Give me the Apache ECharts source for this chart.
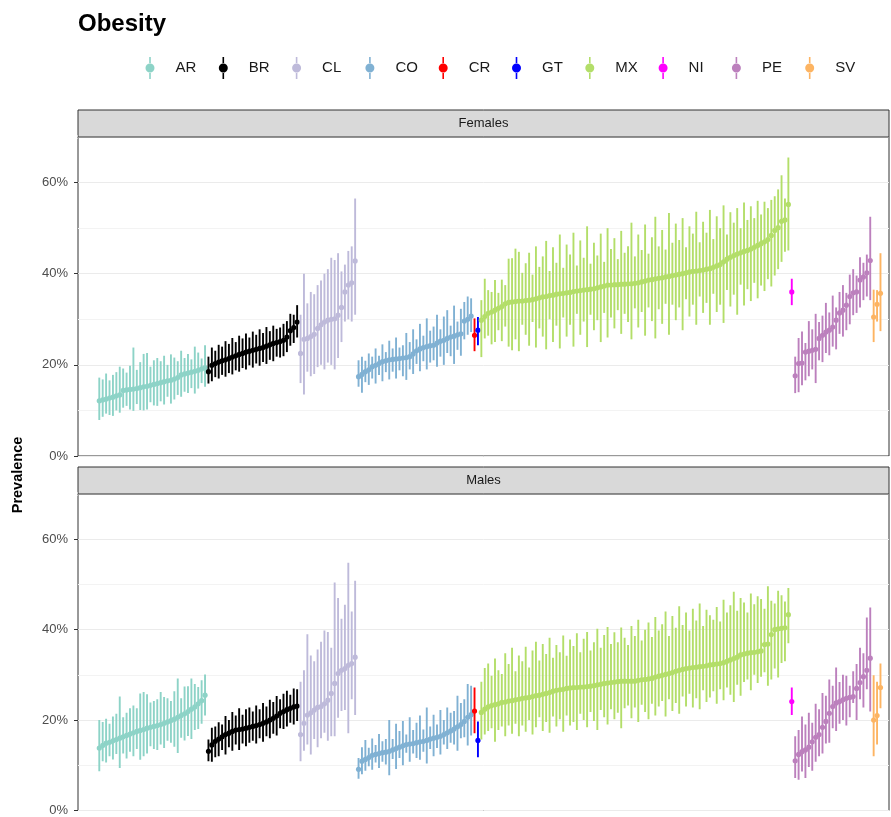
<!DOCTYPE html>
<html><head><meta charset="utf-8">
<script src="https://cdn.jsdelivr.net/npm/echarts@6/dist/echarts.min.js"></script>
<style>html,body{margin:0;padding:0;background:#fff}#chart{width:891px;height:817px}</style>
</head><body><div id="chart"></div>
<script>
// ---- data ----
const chartTitle = 'Obesity';
const countries = ['AR','BR','CL','CO','CR','GT','MX','NI','PE','SV'];
const countryColors = ['#8DD3C7','#000000','#BEBADA','#80B1D3','#FF0000','#0000FF','#B3DE69','#FF00FF','#BC80BD','#FDB462'];
const cityCounts = [32,27,17,34,1,1,91,1,23,3]; // cities per country, in x order
const panels = ['Females','Males'];
const yTicks = [0,20,40,60];

// Females: estimate, lower, upper (%)
const femaleEst = [
  12.1,12.3,12.5,12.7,12.9,13.2,13.4,14.4,14.5,14.6,14.7,14.8,15.0,15.2,15.3,15.5,15.7,15.9,16.1,16.3,16.5,16.6,16.9,17.2,17.8,18.0,18.2,18.4,18.6,18.8,19.1,19.4,
  18.5,19.9,20.3,20.6,20.9,21.1,21.4,21.7,22.0,22.3,22.5,22.8,23.0,23.2,23.4,23.6,23.8,24.1,24.4,24.7,24.9,25.1,25.4,26.1,27.5,28.2,29.4,
  22.5,25.6,25.8,26.2,26.7,28.0,28.8,29.4,29.8,30.0,30.1,30.9,32.6,36.0,37.5,38.0,42.8,
  17.4,17.9,18.5,18.9,19.6,19.9,20.3,20.7,20.9,21.1,21.2,21.3,21.4,21.5,21.6,21.8,22.4,23.1,23.5,23.8,24.0,24.2,24.3,24.8,25.2,25.4,25.8,26.1,26.3,26.6,26.8,29.6,30.0,30.7,
  26.5,
  27.6,
  29.8,30.6,31.3,31.6,32.0,32.4,32.8,33.4,33.7,33.8,
  33.9,34.0,34.0,34.1,34.2,34.3,34.5,34.7,34.9,35.0,
  35.2,35.3,35.5,35.6,35.7,35.8,35.9,36.1,36.2,36.3,
  36.4,36.5,36.6,36.7,36.9,37.1,37.3,37.5,37.5,37.6,
  37.6,37.7,37.7,37.8,37.8,37.9,38.0,38.2,38.4,38.6,
  38.7,38.9,39.0,39.1,39.3,39.4,39.6,39.7,39.9,40.0,
  40.2,40.4,40.5,40.6,40.7,40.8,41.0,41.1,41.4,41.7,
  42.0,42.6,43.2,43.6,44.0,44.3,44.6,44.9,45.1,45.4,
  45.8,46.2,46.6,47.0,47.5,48.4,49.5,50.1,51.5,51.8,
  55.2,
  36.0,
  17.6,20.3,20.4,22.8,23.0,23.2,23.4,25.8,26.5,27.2,27.6,28.3,29.8,31.4,32.0,33.1,35.0,35.8,36.0,38.6,39.3,40.2,42.9,
  30.5,33.3,35.7
];
const femaleLow = [
  7.9,8.6,9.3,9.0,8.8,10.0,9.5,10.6,11.0,10.2,9.9,11.4,10.1,10.0,10.2,11.8,11.1,11.0,12.0,11.3,13.0,11.5,12.4,13.4,13.0,14.1,13.8,14.9,13.7,14.8,16.0,15.2,
  15.9,16.4,17.3,17.0,17.8,17.4,18.2,17.9,18.8,18.5,19.3,19.0,19.9,19.4,20.3,19.8,20.6,20.2,21.1,20.8,21.8,21.6,21.9,22.8,24.2,24.8,26.0,
  16,13.5,18.5,17.5,18,19.5,20,19,20.5,20,19,21.5,25,29.5,30,29.5,31,
  15.2,13.9,16.2,15.6,17.0,15.9,17.8,16.4,18.4,16.8,18.5,17.0,18.8,17.5,16.7,19.0,18.0,20.2,18.6,20.8,19.0,20.5,21.0,19.6,21.8,20.0,22.6,21.9,20.2,23.3,22.0,25.6,26.6,27.2,
  23.0,
  24.3,
  21.7,25.8,26.4,24.5,25.0,27.6,25.2,28.4,24.0,23.2,
  25.6,23.0,28.8,26.6,24.2,29.4,23.8,28.0,26.2,23.4,
  30.0,25.0,28.6,23.6,30.4,26.2,28.8,24.0,31.2,26.6,
  29.5,23.9,31.0,27.6,29.8,25.0,31.4,26.0,30.4,28.0,
  32.0,26.8,31.2,29.4,25.6,32.4,28.2,31.6,26.4,32.6,
  29.6,25.8,32.2,29.0,33.4,26.6,33.2,29.8,32.6,27.6,
  34.4,30.6,33.2,28.8,35.0,31.4,33.6,28.8,35.6,31.6,
  33.2,29.2,36.4,32.8,35.4,31.0,37.6,33.0,36.6,34.0,
  38.0,34.6,37.4,36.2,38.8,37.2,39.6,41.0,42.6,44.8,
  45.1,
  33.1,
  13.8,14.0,15.5,16.6,17.5,19.0,16.0,21.0,20.6,22.6,22.1,24.0,23.4,26.8,26.2,27.6,28.9,30.9,31.4,32.6,34.2,35.0,34.2,
  25.0,29.5,27.4
];
const femaleHigh = [
  17.2,16.8,18.1,16.6,17.8,18.4,19.6,19.2,18.3,19.8,23.8,18.9,20.6,22.4,22.6,19.6,21.0,21.5,20.8,22.0,20.0,22.3,21.6,20.8,23.1,21.5,22.4,21.2,24.0,22.7,21.4,24.3,
  21.8,23.8,23.1,24.4,24.0,25.2,24.6,25.9,25.0,26.4,25.8,26.9,26.0,27.3,26.6,27.8,27.0,28.3,27.4,28.6,27.9,28.2,29.0,29.6,31.2,31.0,33.1,
  31,40,33.5,36,35.5,37.5,38.5,40,41,43.5,43,44.5,40.5,42,45,46,56.5,
  21.0,21.8,20.9,22.5,21.8,23.6,22.0,24.5,22.8,25.3,23.6,26.0,23.8,24.3,27.0,25.0,27.8,25.6,29.0,26.4,30.2,27.5,28.4,31.0,27.8,30.6,32.0,28.6,33.0,29.5,32.3,33.8,35.0,34.6,
  30.2,
  30.5,
  34.2,38.9,36.4,36.0,38.6,35.8,38.7,37.5,43.3,43.4,
  45.5,44.8,40.2,42.3,44.6,39.8,46.0,41.5,43.8,47.2,
  40.6,45.8,42.4,48.6,41.3,46.4,44.2,49.0,41.8,47.3,
  43.5,50.4,42.2,46.8,44.0,48.8,42.6,50.0,45.4,47.8,
  43.2,49.4,44.6,46.0,51.2,43.8,48.6,45.2,50.8,44.4,
  48.0,52.5,46.0,49.6,45.3,53.3,46.8,51.0,47.4,52.2,
  45.8,50.4,48.8,53.6,46.9,51.4,49.0,54.0,47.6,52.6,
  50.0,55.0,48.6,53.5,51.2,54.4,50.0,55.6,51.8,54.8,
  52.2,56.0,53.0,55.8,54.4,56.2,57.0,58.5,61.6,56.5,
  65.5,
  38.9,
  21.8,25.9,27.3,24.8,29.6,27.8,31.2,29.4,30.8,33.6,31.5,35.2,32.6,36.0,37.5,35.8,39.8,41.0,39.6,43.6,42.4,44.2,52.5,
  36.5,36.4,44.5
];

// Males: estimate, lower, upper (%)
const maleEst = [
  13.8,14.4,14.9,15.1,15.4,15.7,16.0,16.3,16.6,16.9,17.2,17.5,17.7,17.9,18.2,18.4,18.6,18.8,19.0,19.3,19.6,19.9,20.2,20.6,21.0,21.4,21.9,22.4,22.9,23.6,24.3,25.5,
  13.1,14.5,15.3,15.8,16.3,16.8,17.1,17.5,17.8,17.9,18.0,18.2,18.4,18.6,18.8,19.0,19.3,19.6,20.0,20.4,20.9,21.5,21.9,22.3,22.6,22.9,23.1,
  16.8,19.3,21.1,21.6,22.2,22.8,23.0,23.6,24.4,25.9,28.1,30.3,31.0,31.4,32.1,32.5,33.9,
  9.1,10.9,11.3,11.7,12.2,12.4,12.6,12.8,12.9,13.1,13.4,13.7,14.0,14.3,14.6,14.7,14.8,15.0,15.2,15.3,15.5,15.8,16.0,16.2,16.4,16.8,17.2,17.6,18.0,18.5,19.0,19.7,20.6,21.2,
  22.0,
  15.5,
  21.7,22.4,22.9,23.2,23.4,23.6,23.9,24.0,24.2,24.3,
  24.5,24.6,24.8,24.9,25.0,25.2,25.4,25.5,25.7,25.9,
  26.1,26.4,26.6,26.7,26.8,27.0,27.1,27.2,27.2,27.3,
  27.3,27.4,27.5,27.6,27.8,27.9,28.1,28.2,28.3,28.4,
  28.5,28.6,28.6,28.6,28.6,28.6,28.8,28.9,29.0,29.1,
  29.2,29.5,29.7,29.9,30.1,30.3,30.5,30.8,31.0,31.2,
  31.4,31.5,31.6,31.7,31.8,31.9,32.0,32.2,32.3,32.4,
  32.5,32.7,33.0,33.3,33.6,33.9,34.4,34.6,34.8,34.9,
  35.0,35.1,35.3,36.7,36.8,38.9,40.0,40.2,40.3,40.4,
  43.3,
  24.1,
  11.0,12.4,13.0,13.4,14.0,15.2,16.2,16.8,18.4,19.7,21.5,23.0,23.8,24.1,24.5,24.8,25.0,25.2,27.0,28.3,29.6,31.0,33.7,
  20.0,21.0,27.2
];
const maleLow = [
  8.7,10.9,10.6,12.0,11.3,12.5,9.4,12.6,11.5,13.0,12.0,13.6,11.2,12.0,12.6,14.2,13.6,13.4,14.6,13.8,15.4,15.0,14.1,12.7,16.1,15.5,16.5,15.8,17.8,18.0,19.2,21.0,
  10.9,10.8,11.8,12.0,13.4,12.4,14.0,13.2,14.6,13.4,14.8,14.2,15.0,15.4,14.8,16.0,15.2,16.4,16.0,17.0,16.6,18.2,18.0,18.6,19.4,19.0,19.8,
  10.9,13.2,14.6,12.4,15.8,14.0,16.0,17.2,15.4,16.4,16.4,20.5,22.0,22.2,17.1,24.6,21.1,
  7.0,8.0,8.8,9.8,9.0,10.6,9.4,10.8,10.2,7.8,11.4,9.2,11.6,10.0,12.8,10.8,12.6,11.6,11.2,13.0,10.4,13.6,12.0,13.8,12.4,14.6,13.6,15.0,14.6,13.2,16.0,16.2,14.4,16.6,
  17.1,
  11.8,
  15.7,16.8,17.6,18.2,15.2,17.8,18.6,16.4,18.8,17.0,
  19.2,16.4,18.8,17.4,20.0,16.8,18.4,20.6,17.6,19.6,
  17.2,20.8,18.6,20.2,17.4,21.0,18.8,19.6,17.8,21.4,
  20.0,18.4,21.8,19.8,17.8,22.2,20.6,19.0,22.4,20.2,
  21.6,18.2,22.6,23.2,20.4,22.8,19.6,23.4,21.8,20.2,
  23.6,21.0,23.0,24.2,20.8,24.6,22.0,23.8,21.4,25.2,
  23.0,25.8,22.8,24.8,22.4,26.6,24.0,25.0,26.4,23.6,
  26.8,24.4,27.2,25.6,24.0,27.8,25.4,28.4,29.0,26.6,
  30.0,28.2,29.6,30.6,27.6,29.0,31.4,29.4,32.6,33.0,
  37.0,
  21.1,
  7.2,6.8,8.6,7.2,9.6,8.8,10.8,12.0,12.6,14.8,15.0,18.2,17.6,19.2,20.0,18.8,20.6,23.8,20.0,24.6,22.8,26.8,21.9,
  12.0,14.6,22.6
];
const maleHigh = [
  20.0,19.6,20.3,19.2,20.8,21.4,25.2,20.6,21.6,22.6,23.2,22.6,25.9,26.2,25.7,23.9,24.2,24.6,26.2,25.1,24.8,24.2,26.4,29.2,24.8,27.4,27.5,29.2,28.0,27.3,28.8,30.1,
  15.7,18.3,18.6,19.5,19.0,20.9,20.0,21.8,21.0,22.6,21.2,22.4,22.8,21.9,23.2,22.4,23.8,23.0,24.5,24.0,25.3,24.6,25.8,26.5,25.6,27.0,26.8,
  28.5,31.0,39.0,34.3,33.0,35.6,37.3,39.8,39.5,36.0,50.4,47.0,42.4,45.5,54.8,44.0,50.8,
  11.6,14.0,15.6,13.9,15.9,14.5,16.9,15.3,15.8,20.0,15.8,19.2,17.6,19.8,16.8,20.6,17.8,19.4,21.0,17.9,22.8,18.6,21.2,19.0,22.2,20.0,22.8,21.6,22.0,25.4,23.8,24.6,28.0,27.6,
  27.2,
  19.7,
  28.5,31.5,32.5,29.8,33.6,31.0,30.2,34.8,32.4,36.0,
  30.8,34.3,33.0,36.2,31.6,35.4,37.3,33.2,36.8,34.6,
  38.2,33.8,36.6,35.0,38.7,34.2,37.8,36.4,39.2,35.0,
  38.0,39.5,35.4,37.2,40.2,36.0,38.8,40.6,36.8,39.4,
  37.2,40.5,38.2,36.6,40.8,38.6,42.2,37.6,40.0,41.6,
  38.4,42.8,39.8,41.2,44.0,38.6,43.0,40.4,45.2,41.0,
  43.8,39.8,44.6,42.0,45.8,40.8,44.4,43.2,42.2,45.0,
  41.8,46.6,43.8,45.4,48.4,44.2,47.0,46.0,43.8,48.0,
  45.6,47.4,46.8,44.6,49.6,46.4,45.8,48.6,47.6,46.2,
  49.2,
  27.2,
  16.4,17.8,20.8,19.0,21.6,19.4,23.6,22.4,26.0,25.4,29.0,27.6,31.6,28.4,30.0,29.8,27.6,30.8,32.4,36.0,34.8,42.7,44.9,
  29.9,28.5,32.5
];

// ---- chart ----
const FONT = '"Liberation Sans", Arial, Helvetica, sans-serif';
const panelData = [[femaleEst, femaleLow, femaleHigh], [maleEst, maleLow, maleHigh]];
const PLOT_L = 78, PLOT_W = 811, STRIP_H = 27;
const gridTops = [137, 494], PANEL_H = 319;
const LEGEND_X0 = 145.5, LEGEND_STEP = 73.3;

function renderItem(params, api) {
  const x = api.value(0);
  const p = api.coord([x, api.value(1)]);
  const lo = api.coord([x, api.value(2)]);
  const hi = api.coord([x, api.value(3)]);
  const color = api.visual('color');
  return {
    type: 'group',
    children: [
      { type: 'line', shape: { x1: lo[0], y1: lo[1], x2: hi[0], y2: hi[1] }, style: { stroke: color, lineWidth: 1.9 } },
      { type: 'circle', shape: { cx: p[0], cy: p[1], r: 2.6 }, style: { fill: color } }
    ]
  };
}

const series = [];
panels.forEach((panel, pi) => {
  const [est, low, high] = panelData[pi];
  let start = 0;
  countries.forEach((c, ci) => {
    const data = [];
    for (let k = 0; k < cityCounts[ci]; k++) {
      const i = start + k;
      data.push([i, est[i], low[i], high[i]]);
    }
    start += cityCounts[ci];
    series.push({
      type: 'custom', name: c, xAxisIndex: pi, yAxisIndex: pi * 2,
      itemStyle: { color: countryColors[ci] },
      renderItem, data, clip: true,
      encode: { x: 0, y: [1, 2, 3] }
    });
  });
});

const iconPath = 'path://M3.7,0H5.3V7H3.7Z M3.7,15H5.3V22H3.7Z M0,11A4.5,4.5 0 1,0 9,11A4.5,4.5 0 1,0 0,11Z';

const graphics = [];
panels.forEach((panel, pi) => {
  graphics.push({
    type: 'rect', z: 10,
    shape: { x: PLOT_L, y: gridTops[pi] - STRIP_H, width: PLOT_W, height: STRIP_H },
    style: { fill: '#D9D9D9', stroke: '#333333', lineWidth: 1 }
  });
  graphics.push({
    type: 'text', z: 11,
    x: PLOT_L + PLOT_W / 2, y: gridTops[pi] - STRIP_H / 2,
    style: { text: panel, fill: '#1A1A1A', font: '13px ' + FONT, align: 'center', verticalAlign: 'middle' }
  });
  // hide the automatic extent tick at the top of each panel (no label there)
  graphics.push({
    type: 'rect', z: 12,
    shape: { x: PLOT_L - 6, y: gridTops[pi] - 2, width: 5.5, height: 4 },
    style: { fill: '#ffffff' }
  });
});
graphics.push({
  type: 'text', x: 18, y: 475, rotation: Math.PI / 2,
  style: { text: 'Prevalence', fill: '#000', font: 'bold 14.5px ' + FONT, align: 'center', verticalAlign: 'middle' }
});

const xMin = -6.24, xMax = 231.5;

const yAxes = [];
panels.forEach((p, i) => {
  yAxes.push({
    type: 'value', gridIndex: i, min: 0, max: 70, interval: 10,
    axisLine: { show: false }, axisTick: { show: false }, axisLabel: { show: false },
    splitLine: { show: true, lineStyle: { color: ['#EBEBEB', '#F3F3F3'], width: 1 } }
  });
  yAxes.push({
    type: 'value', gridIndex: i, min: 0, max: 70, interval: 20, position: 'left',
    axisLine: { show: false },
    axisTick: { show: true, length: 4, lineStyle: { color: '#333333', width: 1 } },
    axisLabel: { formatter: v => (yTicks.includes(v) ? v + '%' : ''), fontSize: 13, color: '#4D4D4D', margin: 10 },
    splitLine: { show: false }
  });
});

const legends = countries.map((c, i) => ({
  top: 57, left: LEGEND_X0 + i * LEGEND_STEP, padding: 0,
  itemWidth: 9, itemHeight: 22,
  data: [{ name: c, icon: iconPath }],
  formatter: name => '{sp| }' + name,
  textStyle: { fontSize: 15, color: '#1A1A1A', rich: { sp: { width: 16, fontSize: 15 } } },
  selectedMode: false
}));

const option = {
  animation: false,
  backgroundColor: '#ffffff',
  textStyle: { fontFamily: FONT },
  title: {
    text: chartTitle, left: 73, top: 7,
    textStyle: { fontSize: 24, fontWeight: 'bold', color: '#000', fontFamily: FONT }
  },
  legend: legends,
  graphic: graphics,
  grid: gridTops.map(t => ({
    left: PLOT_L, width: PLOT_W, top: t, height: PANEL_H,
    show: true, borderColor: '#333333', borderWidth: 1, backgroundColor: '#fff', containLabel: false
  })),
  xAxis: panels.map((p, i) => ({
    type: 'value', gridIndex: i, min: xMin, max: xMax,
    axisLine: { show: false }, axisTick: { show: false }, axisLabel: { show: false }, splitLine: { show: false }
  })),
  yAxis: yAxes,
  series
};

const chart = echarts.init(document.getElementById('chart'), null, { renderer: 'canvas' });
chart.setOption(option);
</script>
</body></html>
